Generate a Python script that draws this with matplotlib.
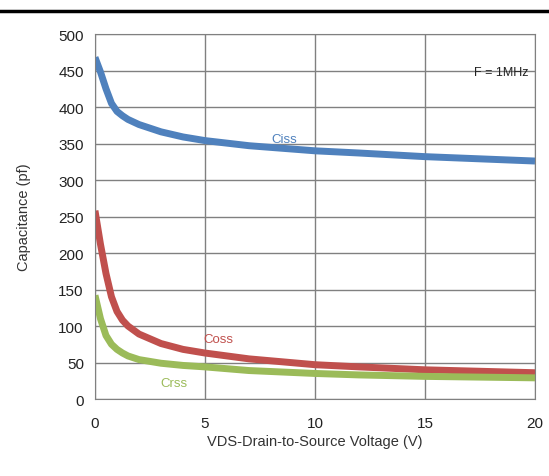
import matplotlib.pyplot as plt
from matplotlib.lines import Line2D

plt.rcParams['font.family'] = ['Liberation Sans', 'DejaVu Sans']

# Data
vds = [0, 0.25, 0.5, 0.75, 1.0, 1.25, 1.5, 2, 3, 4, 5, 7, 10, 12, 15, 20]
ciss = [468, 448, 425, 405, 394, 388, 383, 376, 366, 359, 354, 347, 340, 337, 332, 326]
coss = [258, 212, 172, 140, 120, 108, 100, 89, 76, 68, 63, 55, 47, 44, 40, 36]
crss = [142, 110, 87, 75, 68, 63, 59, 54, 49, 46, 44, 39, 35, 33, 31, 29]

fig = plt.figure(figsize=(5.49, 4.77), dpi=100)
ax = fig.add_axes([0.173, 0.1614, 0.8015, 0.7652])

ax.plot(vds, ciss, color='#4F81BD', lw=5, solid_capstyle='butt')
ax.plot(vds, coss, color='#C0504D', lw=5, solid_capstyle='butt')
ax.plot(vds, crss, color='#9BBB59', lw=5, solid_capstyle='butt')

ax.set_xlim(0, 20)
ax.set_ylim(0, 500)
ax.set_xticks([0, 5, 10, 15, 20])
ax.set_yticks(range(0, 501, 50))
ax.grid(True, color='#808080', lw=1)
ax.set_axisbelow(True)
for s in ax.spines.values():
    s.set_color('#808080')
ax.tick_params(length=0, labelsize=11, colors='#222222', pad=8)
ax.tick_params(axis='x', pad=12)

ax.text(8.6, 356, 'Ciss', color='#4F81BD', fontsize=9.5, ha='center', va='center')
ax.text(5.6, 82, 'Coss', color='#C0504D', fontsize=9.5, ha='center', va='center')
ax.text(3.6, 22, 'Crss', color='#9BBB59', fontsize=9.5, ha='center', va='center')
ax.text(19.7, 448, 'F = 1MHz', color='#222222', fontsize=9, ha='right', va='center')

ax.set_xlabel('VDS-Drain-to-Source Voltage (V)', fontsize=10.5, color='#333333', labelpad=3)
ax.set_ylabel('Capacitance (pf)', fontsize=10.5, color='#333333', labelpad=20)

fig.add_artist(Line2D([0, 1], [0.975, 0.975], color='black', lw=2.5, transform=fig.transFigure))

plt.savefig('out.png', dpi=100)
